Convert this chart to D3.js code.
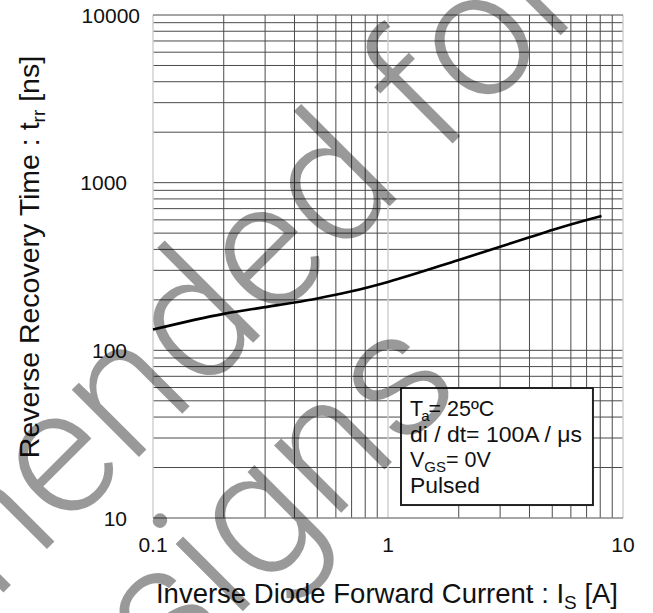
<!DOCTYPE html>
<html><head><meta charset="utf-8">
<script src="https://cdn.jsdelivr.net/npm/d3@7"></script>
<style>body{margin:0;background:#fff}svg{display:block}</style>
</head><body>
<script>
// ---- data ----
const currentIs = [0.1, 0.2, 0.3, 0.4, 0.5, 0.7, 1, 2, 3, 4, 5, 7, 8.1];
const trrNs     = [133, 165, 181, 193, 204, 225, 256, 346, 415, 472, 522, 599, 632];
const xTickLabels = ["0.1", "1", "10"];
const xTickValues = [0.1, 1, 10];
const yTickLabels = ["10", "100", "1000", "10000"];
const yTickValues = [10, 100, 1000, 10000];
const legendLines = ["Ta= 25ºC", "di / dt= 100A / μs", "VGS= 0V", "Pulsed"];
const watermarkLines = ["Not recommended for", "new designs"];

const W = 653, H = 613;
const m = {left:153, right:623, top:15, bottom:518};
const svg = d3.select("body").append("svg").attr("width", W).attr("height", H);
const font = "'Liberation Sans', Arial, sans-serif";

const x = d3.scaleLog().domain([0.1, 10]).range([m.left, m.right]);
const y = d3.scaleLog().domain([10, 10000]).range([m.bottom, m.top]);

// grid
const g = svg.append("g");
const minorX = [];
[0.1, 1].forEach(d => { for (let k = 2; k <= 9; k++) minorX.push(d * k); });
const minorY = [];
[10, 100, 1000].forEach(d => { for (let k = 2; k <= 9; k++) minorY.push(d * k); });

g.selectAll(".vx").data(minorX).join("line")
  .attr("x1", d => x(d)).attr("x2", d => x(d)).attr("y1", m.top).attr("y2", m.bottom)
  .attr("stroke", "#4a4a4a").attr("stroke-width", 1);
g.selectAll(".hy").data(minorY.concat([100, 1000])).join("line")
  .attr("y1", d => y(d)).attr("y2", d => y(d)).attr("x1", m.left).attr("x2", m.right)
  .attr("stroke", "#4a4a4a").attr("stroke-width", 1);
// decade verticals (light)
g.selectAll(".dx").data(xTickValues).join("line")
  .attr("x1", d => x(d)).attr("x2", d => x(d)).attr("y1", m.top).attr("y2", m.bottom)
  .attr("stroke", "#d0d0d0").attr("stroke-width", 1.5);
// top and bottom borders
g.append("line").attr("x1", m.left).attr("x2", m.right).attr("y1", y(10000)).attr("y2", y(10000))
  .attr("stroke", "#4a4a4a").attr("stroke-width", 1);
g.append("line").attr("x1", m.left).attr("x2", m.right).attr("y1", y(10)).attr("y2", y(10))
  .attr("stroke", "#888").attr("stroke-width", 1.5);

// curve
const line = d3.line().x(d => x(d[0])).y(d => y(d[1])).curve(d3.curveMonotoneX);
svg.append("path").datum(currentIs.map((v, i) => [v, trrNs[i]]))
  .attr("d", line).attr("fill", "none").attr("stroke", "#000").attr("stroke-width", 2.6);

// tick labels
svg.selectAll(".xl").data(xTickValues).join("text")
  .attr("x", d => x(d)).attr("y", 552).attr("text-anchor", "middle")
  .attr("font-family", font).attr("font-size", 21).attr("fill", "#111")
  .text((d, i) => xTickLabels[i]);
svg.selectAll(".yl").data(yTickValues).join("text")
  .attr("x", d => d === 10000 ? 140 : 127).attr("y", d => y(d)).attr("dy", "0.36em")
  .attr("text-anchor", "end")
  .attr("font-family", font).attr("font-size", 21).attr("fill", "#111")
  .text((d, i) => yTickLabels[i]);

// legend box
const lb = {x0: x(1.136), x1: x(7.45), y0: y(59.6), y1: y(11.95)};
svg.append("rect").attr("x", lb.x0).attr("y", lb.y0).attr("width", lb.x1 - lb.x0).attr("height", lb.y1 - lb.y0)
  .attr("fill", "#fff").attr("stroke", "#222").attr("stroke-width", 2);
const lt = svg.append("g").attr("font-family", font).attr("font-size", 21.5).attr("fill", "#111");
const lx = lb.x0 + 9, ly0 = 416, lstep = 25.5;
let t = lt.append("text").attr("x", lx).attr("y", ly0);
t.append("tspan").text("T");
t.append("tspan").attr("font-size", 15).attr("dy", 5).attr("dx", -2).text("a");
t.append("tspan").attr("dy", -5).attr("dx", -1).text("= 25ºC");
lt.append("text").attr("x", lx).attr("y", ly0 + lstep)
  .attr("textLength", 172).attr("lengthAdjust", "spacingAndGlyphs").text(legendLines[1]);
t = lt.append("text").attr("x", lx).attr("y", ly0 + 2 * lstep);
t.append("tspan").text("V");
t.append("tspan").attr("font-size", 15).attr("dy", 5).text("GS");
t.append("tspan").attr("dy", -5).text("= 0V");
lt.append("text").attr("x", lx).attr("y", ly0 + 3 * lstep)
  .attr("textLength", 70).attr("lengthAdjust", "spacingAndGlyphs").text(legendLines[3]);

// axis titles
let xt = svg.append("text").attr("x", 387).attr("y", 603).attr("text-anchor", "middle")
  .attr("font-family", font).attr("font-size", 27.5).attr("fill", "#111");
xt.append("tspan").text("Inverse Diode Forward Current : I");
xt.append("tspan").attr("font-size", 19).attr("dy", 6).text("S");
xt.append("tspan").attr("dy", -6).text(" [A]");

let yt = svg.append("text").attr("transform", "translate(39,257) rotate(-90)").attr("text-anchor", "middle")
  .attr("font-family", font).attr("font-size", 28.5).attr("fill", "#111");
yt.append("tspan").text("Reverse Recovery Time : t");
yt.append("tspan").attr("font-size", 19).attr("dy", 6).text("rr");
yt.append("tspan").attr("dy", -6).text(" [ns]");

// watermark
const wm = svg.append("g").attr("font-family", "Roboto, 'Liberation Sans', sans-serif")
  .attr("font-weight", 300).attr("font-size", 180).attr("fill", "#000").attr("fill-opacity", 0.4)
  .attr("text-anchor", "end");
wm.append("text").attr("transform", "translate(594,2) rotate(-45)").text(watermarkLines[0]);
wm.append("text").attr("transform", "translate(466,388) rotate(-45)").text(watermarkLines[1]);
</script>
</body></html>
